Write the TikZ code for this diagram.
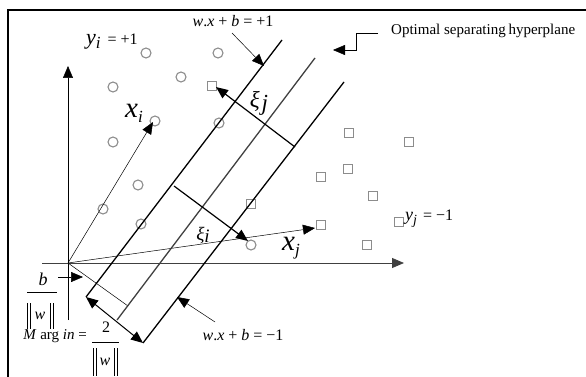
\documentclass[tikz,border=0pt]{standalone}
\usepackage{fontspec}
\setmainfont{Liberation Serif}
\usetikzlibrary{arrows.meta}
\begin{document}
\begin{tikzpicture}[x=1pt,y=-1pt,
  pt/.style={draw=gray!90,line width=1.1pt,inner sep=0pt,minimum size=10pt},
  circ/.style={pt,circle},
  sq/.style={pt,rectangle,minimum size=9.5pt},
  tip/.style={-{Triangle[length=12pt,width=10pt]}},
  dtip/.style={{Triangle[length=12pt,width=10pt]}-{Triangle[length=12pt,width=10pt]}},
  thin1/.style={line width=0.5pt},
  marg/.style={line width=1.3pt},
  lbl/.style={inner sep=0pt,font=\fontsize{16}{16}\selectfont}]
\useasboundingbox (0,0) rectangle (586,377);
% frame
\draw[line width=2pt] (8,377) -- (8,10) -- (586,10);
% axes
\coordinate (O) at (68,263);
\coordinate (vb) at (68,320);
\coordinate (vt) at (68,66);
\coordinate (hl) at (42,263);
\coordinate (hr) at (404,263);
\draw[thin1,tip] (vb) -- (vt);
\draw[line width=0.8pt,draw=black!75,tip] (hl) -- (hr);
% points
\foreach \n/\x/\y in {c1/146/53,c2/218/53,c3/113/87,c4/181/77,c5/155/121,c6/219/123,c7/113/142,c8/138/185,c9/103/209,c10/141/224,c11/251/245}
  \node[circ] (\n) at (\x,\y) {};
\foreach \n/\x/\y in {s1/212/86,s2/349/133,s3/409/142,s4/348/169,s5/321/177,s6/251/204,s7/373/196,s8/321/225,s9/399/222,s10/367/245}
  \node[sq] (\n) at (\x,\y) {};
% vectors
\coordinate (xit) at (153,122);
\coordinate (xjt) at (315,228);
\coordinate (nrm) at (128,306);
\draw[thin1,tip] (O) -- (xit);
\draw[thin1,tip] (O) -- (xjt);
\draw[thin1] (O) -- (nrm);
% hyperplanes
\coordinate (u1) at (86,297); \coordinate (u2) at (282,40);
\coordinate (h1) at (117,320); \coordinate (h2) at (315,58);
\coordinate (l1) at (143,343); \coordinate (l2) at (344,82);
\draw[marg] (u1) -- (u2);
\draw[marg,draw=black!75] (h1) -- (h2);
\draw[marg] (l1) -- (l2);
% margin arrow
\draw[line width=1pt,dtip] (u1) -- (l1);
% slack arrows
\coordinate (xja) at (295,147); \coordinate (xjb) at (216,87);
\coordinate (xia) at (174,186); \coordinate (xib) at (248,241);
\draw[line width=1.2pt,tip] (xja) -- (xjb);
\draw[line width=1.2pt,tip] (xia) -- (xib);
% label arrows
\coordinate (wpa) at (232,33); \coordinate (wpb) at (264,66);
\coordinate (wma) at (215,322); \coordinate (wmb) at (177,297);
\draw[thin1,tip] (wpa) -- (wpb);
\draw[thin1,tip] (wma) -- (wmb);
\coordinate (opa) at (378,33); \coordinate (opb) at (356,33);
\coordinate (opc) at (356,50); \coordinate (opd) at (333,50);
\draw[thin1,tip] (opa) -- (opb) -- (opc) -- (opd);
\coordinate (ba) at (58,277); \coordinate (bb) at (83,277);
\draw[thin1,tip] (ba) -- (bb);
% texts
\node[lbl] (wp) at (233,21) {\textit{w}.\textit{x} + \textit{b} = +1};
\node[lbl] (wm) at (243,335) {\textit{w}.\textit{x} + \textit{b} = −1};
\node[lbl,anchor=west,font=\fontsize{15}{15}\selectfont] (opt) at (391,31) {Optimal separating\hspace{-1pt} hyperplane};
\node[lbl,anchor=west] (yi) at (86,42) {\fontsize{22}{22}\selectfont\textit{y}\raisebox{-4pt}{\fontsize{17}{17}\selectfont\textit{i}}\hspace{7pt}\fontsize{16}{16}\selectfont= +1};
\node[lbl,anchor=west] (yj) at (405,219) {\fontsize{18}{18}\selectfont\textit{y}\raisebox{-4pt}{\fontsize{14}{14}\selectfont\textit{j}}\hspace{6pt}\fontsize{16}{16}\selectfont= −1};
\node[lbl] (xi) at (134,113) {\fontsize{29}{29}\selectfont\textit{x}\raisebox{-5pt}{\fontsize{17}{17}\selectfont\textit{i}}};
\node[lbl] (xj) at (291,248) {\fontsize{29}{29}\selectfont\textit{x}\raisebox{-5pt}{\fontsize{17}{17}\selectfont\textit{j}}};
\node[lbl] (ksj) at (259,103) {\fontsize{23}{23}\selectfont\textit{ξ}\hspace{2pt}\raisebox{-3pt}{\textit{j}}};
\node[lbl] (ksi) at (203,236) {\fontsize{19}{19}\selectfont\textit{ξ}\raisebox{-2pt}{\textit{i}}};
% b / ||w||
\node[lbl,font=\fontsize{18}{18}\selectfont] (bn) at (43,279) {\textit{b}};
\coordinate (bf1) at (27,292); \coordinate (bf2) at (57,292);
\draw[line width=0.8pt] (bf1) -- (bf2);
\node[lbl,font=\fontsize{16}{16}\selectfont] (bw) at (40,316) {\textit{w}};
\draw[line width=0.8pt] ([shift={(-13,-13)}]bw.center) -- ([shift={(-13,13)}]bw.center)
  ([shift={(-10,-13)}]bw.center) -- ([shift={(-10,13)}]bw.center)
  ([shift={(10,-13)}]bw.center) -- ([shift={(10,13)}]bw.center)
  ([shift={(13,-13)}]bw.center) -- ([shift={(13,13)}]bw.center);
% Margin = 2/||w||
\node[lbl,anchor=east,font=\fontsize{15}{15}\selectfont] (mg) at (87,336) {\textit{M} arg \textit{in} =};
\node[lbl,font=\fontsize{16}{16}\selectfont] (two) at (106,327) {2};
\coordinate (mf1) at (92,342); \coordinate (mf2) at (119,342);
\draw[line width=0.8pt] (mf1) -- (mf2);
\node[lbl,font=\fontsize{16}{16}\selectfont] (mw) at (105,362) {\textit{w}};
\draw[line width=0.8pt] ([shift={(-12,-14)}]mw.center) -- ([shift={(-12,14)}]mw.center)
  ([shift={(-9,-14)}]mw.center) -- ([shift={(-9,14)}]mw.center)
  ([shift={(9,-14)}]mw.center) -- ([shift={(9,14)}]mw.center)
  ([shift={(12,-14)}]mw.center) -- ([shift={(12,14)}]mw.center);
\end{tikzpicture}
\end{document}
